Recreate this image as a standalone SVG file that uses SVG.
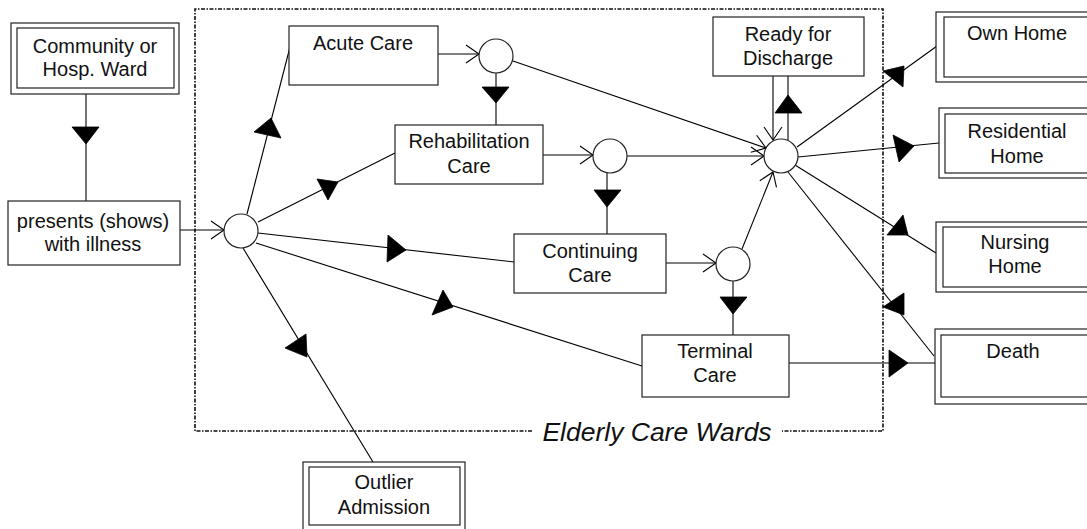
<svg xmlns="http://www.w3.org/2000/svg" width="1087" height="529" viewBox="0 0 1087 529">
<style>
  .box{fill:#fff;stroke:#222;stroke-width:1.2}
  .dbl{fill:none;stroke:#222;stroke-width:1.2}
  .node{fill:#fff;stroke:#222;stroke-width:1.2}
  .t{font-family:"Liberation Sans",Arial,sans-serif;font-size:20px;fill:#111;text-anchor:middle}
  .lbl{font-family:"Liberation Sans",Arial,sans-serif;font-size:26.5px;font-style:italic;fill:#111;text-anchor:middle}
  .ln{fill:none;stroke:#000;stroke-width:1.1}
  .op{marker-end:url(#open)}
  .tri{fill:#000;stroke:#000;stroke-width:0.8;stroke-linejoin:round}
  .wall{fill:none;stroke:#111;stroke-width:1.6;stroke-dasharray:4 1.5 1.5 1.5}
</style>
<defs>
  <marker id="open" viewBox="0 0 16 22" markerWidth="16" markerHeight="22" refX="14" refY="11" orient="auto" markerUnits="userSpaceOnUse">
    <path d="M1,2 L14,11 L1,20" fill="none" stroke="#000" stroke-width="1.1"/>
  </marker>
</defs>
<rect width="1087" height="529" fill="#fff"/>

<g id="boundary">
  <path class="wall" d="M532,431 L195,431 L195,9 L883,9 L883,431 L782,431"/>
  <text class="lbl" x="657" y="441">Elderly Care Wards</text>
</g>

<g id="connectors">
  <line class="ln" x1="86" y1="94" x2="86" y2="201"/>
  <polygon class="tri" points="72,127 99,127 86,144"/>
  <line class="ln op" x1="180" y1="230" x2="224" y2="230"/>
  <line class="ln" x1="247" y1="214" x2="290" y2="47"/>
  <polygon class="tri" points="254,132 281,138 271,118"/>
  <line class="ln" x1="258" y1="222" x2="395" y2="153"/>
  <polygon class="tri" points="317,179 328,200 338,182"/>
  <line class="ln" x1="258" y1="233" x2="514" y2="262"/>
  <polygon class="tri" points="388,235 387,262 406,250"/>
  <line class="ln" x1="256" y1="243" x2="642" y2="366"/>
  <polygon class="tri" points="443,290 432,315 453,307"/>
  <line class="ln" x1="243" y1="248" x2="373" y2="462"/>
  <polygon class="tri" points="285,348 306,334 307,357"/>
  <line class="ln op" x1="438" y1="54" x2="479" y2="54"/>
  <line class="ln" x1="496" y1="73" x2="496" y2="125"/>
  <polygon class="tri" points="482,87 509,87 496,103"/>
  <line class="ln op" x1="513" y1="61" x2="766" y2="148"/>
  <line class="ln op" x1="543" y1="155" x2="593" y2="155"/>
  <line class="ln op" x1="627" y1="156" x2="764" y2="156"/>
  <line class="ln" x1="607" y1="172" x2="607" y2="234"/>
  <polygon class="tri" points="594,190 621,190 607,207"/>
  <line class="ln op" x1="666" y1="263" x2="716" y2="263"/>
  <line class="ln op" x1="742" y1="249" x2="773" y2="172"/>
  <line class="ln" x1="733" y1="281" x2="733" y2="335"/>
  <polygon class="tri" points="720,297 747,297 733,314"/>
  <line class="ln op" x1="773" y1="76" x2="773" y2="140"/>
  <line class="ln" x1="788" y1="140" x2="788" y2="76"/>
  <polygon class="tri" points="775,113 802,113 788,95"/>
  <line class="ln" x1="797" y1="147" x2="937" y2="46"/>
  <polygon class="tri" points="883,71 904,66 903,87"/>
  <line class="ln" x1="798" y1="157" x2="939" y2="143"/>
  <polygon class="tri" points="893,135 899,162 914,146"/>
  <line class="ln" x1="795" y1="165" x2="936" y2="253"/>
  <polygon class="tri" points="887,235 903,215 908,235"/>
  <line class="ln" x1="788" y1="172" x2="934" y2="356"/>
  <polygon class="tri" points="883,307 904,293 904,315"/>
  <line class="ln" x1="789" y1="363" x2="935" y2="363"/>
  <polygon class="tri" points="889,350 889,377 908,363"/>
</g>

<g id="community">
  <rect class="box" x="11" y="23" width="168" height="71"/>
  <rect class="dbl" x="17" y="28" width="157" height="60"/>
  <text class="t" x="95" y="53">Community or</text>
  <text class="t" x="95" y="76">Hosp. Ward</text>
</g>
<g id="presents">
  <rect class="box" x="8" y="201" width="172" height="64"/>
  <text class="t" x="93" y="228">presents (shows)</text>
  <text class="t" x="93" y="251">with illness</text>
</g>
<g id="junction-admit"><circle class="node" cx="241" cy="231" r="17"/></g>
<g id="acute">
  <rect class="box" x="289" y="26" width="149" height="59"/>
  <text class="t" x="363" y="50">Acute Care</text>
</g>
<g id="junction-acute"><circle class="node" cx="496" cy="56" r="17"/></g>
<g id="rehab">
  <rect class="box" x="395" y="125" width="148" height="59"/>
  <text class="t" x="469" y="148">Rehabilitation</text>
  <text class="t" x="469" y="173">Care</text>
</g>
<g id="junction-rehab"><circle class="node" cx="610" cy="156" r="17"/></g>
<g id="continuing">
  <rect class="box" x="514" y="234" width="152" height="59"/>
  <text class="t" x="590" y="258">Continuing</text>
  <text class="t" x="590" y="282">Care</text>
</g>
<g id="junction-continuing"><circle class="node" cx="733" cy="264" r="17"/></g>
<g id="terminal">
  <rect class="box" x="642" y="335" width="147" height="62"/>
  <text class="t" x="715" y="358">Terminal</text>
  <text class="t" x="715" y="382">Care</text>
</g>
<g id="ready">
  <rect class="box" x="713" y="17" width="151" height="59"/>
  <text class="t" x="788" y="41">Ready for</text>
  <text class="t" x="788" y="65">Discharge</text>
</g>
<g id="junction-discharge"><circle class="node" cx="781" cy="156" r="17"/></g>
<g id="outlier">
  <rect class="box" x="303" y="462" width="162" height="70"/>
  <rect class="dbl" x="309" y="467" width="151" height="58"/>
  <text class="t" x="384" y="489">Outlier</text>
  <text class="t" x="384" y="514">Admission</text>
</g>
<g id="own-home">
  <rect class="box" x="936" y="12" width="170" height="70"/>
  <rect class="dbl" x="944" y="17" width="155" height="60"/>
  <text class="t" x="1017" y="40">Own Home</text>
</g>
<g id="residential-home">
  <rect class="box" x="939" y="108" width="170" height="70"/>
  <rect class="dbl" x="945" y="114" width="155" height="59"/>
  <text class="t" x="1017" y="138">Residential</text>
  <text class="t" x="1017" y="163">Home</text>
</g>
<g id="nursing-home">
  <rect class="box" x="936" y="222" width="170" height="70"/>
  <rect class="dbl" x="943" y="227" width="155" height="60"/>
  <text class="t" x="1015" y="249">Nursing</text>
  <text class="t" x="1015" y="273">Home</text>
</g>
<g id="death">
  <rect class="box" x="935" y="329" width="170" height="75"/>
  <rect class="dbl" x="941" y="335" width="155" height="62"/>
  <text class="t" x="1013" y="358">Death</text>
</g>
</svg>
